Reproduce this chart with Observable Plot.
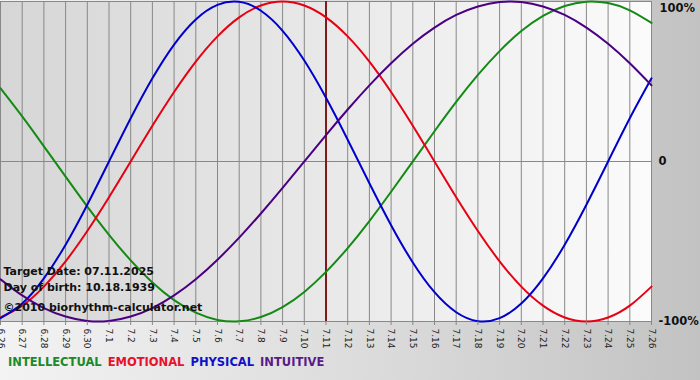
<!DOCTYPE html>
<html>
<head>
<meta charset="utf-8">
<script src="https://cdn.jsdelivr.net/npm/d3@7"></script>
<script src="https://cdn.jsdelivr.net/npm/@observablehq/plot@0.6"></script>
<style>
  html, body { margin: 0; padding: 0; }
  body { width: 700px; height: 380px; overflow: hidden;
         background: linear-gradient(to right, #f3f3f3 0%, #d8d8d8 60%, #c2c2c2 100%); }
  #chart { position: relative; width: 700px; height: 380px; }
  #legend { height: 30px; line-height: 24px; padding-left: 8px; white-space: nowrap;
            font-family: "DejaVu Sans", Verdana, sans-serif; font-weight: bold; font-size: 11.5px; }
  #legend span { margin-right: 6px; }
</style>
</head>
<body>
<div id="chart"></div>
<script>
const days = ["6.26","6.27","6.28","6.29","6.30","7.1","7.2","7.3","7.4","7.5","7.6","7.7","7.8","7.9","7.10",
              "7.11","7.12","7.13","7.14","7.15","7.16","7.17","7.18","7.19","7.20","7.21","7.22","7.23","7.24","7.25","7.26"];
const physical = [-0.979,-0.888,-0.731,-0.520,-0.270,0,0.270,0.520,0.731,0.888,0.979,0.998,0.942,0.817,0.631,
                  0.398,0.136,-0.136,-0.398,-0.631,-0.817,-0.942,-0.998,-0.979,-0.888,-0.731,-0.520,-0.270,0,0.270,0.520];
const emotional = [-0.975,-0.901,-0.782,-0.624,-0.434,-0.223,0,0.223,0.434,0.624,0.782,0.901,0.975,1,0.975,
                   0.901,0.782,0.624,0.434,0.223,0,-0.223,-0.434,-0.624,-0.782,-0.901,-0.975,-1,-0.975,-0.901,-0.782];
const intellectual = [0.458,0.282,0.095,-0.095,-0.282,-0.458,-0.618,-0.756,-0.866,-0.945,-0.990,-0.999,-0.972,-0.910,-0.815,
                      -0.690,-0.541,-0.372,-0.189,0,0.189,0.372,0.541,0.690,0.815,0.910,0.972,0.999,0.990,0.945,0.866];
const intuitive = [-0.736,-0.837,-0.916,-0.969,-0.997,-0.997,-0.969,-0.916,-0.837,-0.736,-0.614,-0.476,-0.325,-0.165,0,
                   0.165,0.325,0.476,0.614,0.736,0.837,0.916,0.969,0.997,0.997,0.969,0.916,0.837,0.736,0.614,0.476];
const seriesNames = ["INTELLECTUAL","EMOTIONAL","PHYSICAL","INTUITIVE"];
const seriesColors = ["#138a13","#e60012","#0000cc","#4b0082"];
const legendColors = ["#1a8a2a","#e8102a","#1010c8","#5a1a8a"];
const yTicks = [1, 0, -1];
const yTickLabels = ["100%", "0", "-100%"];
const targetDay = "7.11";
const infoLines = ["Target Date: 07.11.2025", "Day of birth: 10.18.1939", "©2010 biorhythm-calculator.net"];

const seriesValues = [intellectual, emotional, physical, intuitive];
const dayIndex = days.map((d, i) => i);
const data = seriesNames.flatMap((name, s) => days.map((d, i) => ({day: i, value: seriesValues[s][i], series: name})));

const svg = Plot.plot({
  width: 700,
  height: 350,
  marginTop: 1,
  marginLeft: 0,
  marginRight: 49,
  marginBottom: 29,
  style: {background: "transparent", fontFamily: "DejaVu Sans, sans-serif", fontSize: "9px", overflow: "visible"},
  x: {domain: [0, days.length - 1], label: null},
  y: {domain: [-1, 1], label: null},
  color: {domain: seriesNames, range: seriesColors},
  marks: [
    Plot.frame({fill: "url(#plotgrad)", stroke: "none"}),
    Plot.ruleX(dayIndex, {stroke: "#888", strokeWidth: 1, strokeOpacity: 1}),
    Plot.ruleY([0], {stroke: "#888", strokeWidth: 1}),
    Plot.frame({stroke: "#888", strokeWidth: 1}),
    Plot.ruleX([days.indexOf(targetDay)], {stroke: "#7e1c1c", strokeWidth: 2}),
    Plot.line(data, {x: "day", y: "value", z: "series", stroke: "series", strokeWidth: 2, curve: "natural"}),
    Plot.axisX({ticks: dayIndex, tickFormat: i => days[i], tickRotate: 90, tickSize: 4, tickPadding: 3,
      stroke: "#888", color: "#222", fontSize: 9, label: null}),
    Plot.text([yTicks[1], yTicks[2]], {frameAnchor: "right", y: d => d, text: d => yTickLabels[yTicks.indexOf(d)],
      textAnchor: "start", dx: 7, fontWeight: "bold", fontSize: 11.5, fill: "#111"}),
    Plot.text([yTicks[0]], {frameAnchor: "right", y: d => d, text: d => yTickLabels[yTicks.indexOf(d)],
      textAnchor: "start", dx: 8, dy: 7, fontWeight: "bold", fontSize: 11.5, fill: "#111"}),
    Plot.text([infoLines[0]], {frameAnchor: "bottom-left", lineAnchor: "middle", dx: 3, dy: -50, fontWeight: "bold", fontSize: 11, fill: "#111"}),
    Plot.text([infoLines[1]], {frameAnchor: "bottom-left", lineAnchor: "middle", dx: 3, dy: -34, fontWeight: "bold", fontSize: 11, fill: "#111"}),
    Plot.text([infoLines[2]], {frameAnchor: "bottom-left", lineAnchor: "middle", dx: 3, dy: -14, fontWeight: "bold", fontSize: 11, fill: "#111"})
  ]
});
d3.select(svg).insert("defs", ":first-child").html(
  '<linearGradient id="plotgrad" x1="0" x2="1" y1="0" y2="0">' +
  '<stop offset="0" stop-color="#d6d6d6"/><stop offset="1" stop-color="#fbfbfb"/></linearGradient>');
svg.style.display = "block";
const chart = document.getElementById("chart");
chart.appendChild(svg);
const legend = document.createElement("div");
legend.id = "legend";
seriesNames.forEach((n, i) => {
  const s = document.createElement("span");
  s.textContent = n;
  s.style.color = legendColors[i];
  legend.appendChild(s);
});
chart.appendChild(legend);
</script>
</body>
</html>
